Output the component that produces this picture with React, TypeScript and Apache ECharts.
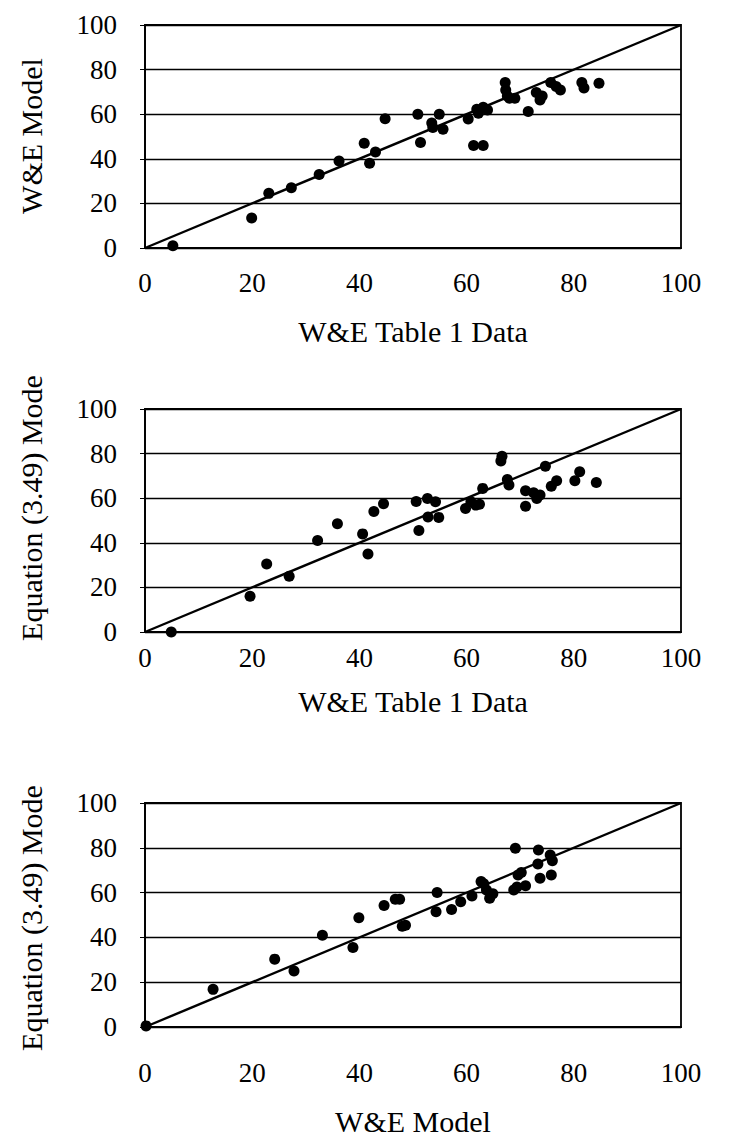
import React, { useEffect, useRef } from "react";
import * as echarts from "echarts";

// Plot 1: x = W&E Table 1 Data, y = W&E Model
const p1Data: number[] = [5.2, 19.9, 23.1, 27.3, 32.5, 36.2, 40.9, 41.9, 43, 44.8, 50.9, 51.4, 53.5, 53.7, 54.9, 55.6, 60.3, 61.3, 63.1, 61.9, 62.2, 63.1, 63.9, 67.2, 67.3, 67.6, 68, 69, 71.5, 73, 73.7, 74.1, 75.7, 76.7, 77.5, 81.5, 81.9, 84.7];
const p1Model: number[] = [1, 13.5, 24.5, 27, 33, 39, 47, 38, 43, 58, 60, 47.3, 56, 54, 60, 53.3, 57.8, 46, 46, 62.2, 60.4, 63.1, 61.9, 74.2, 70.9, 68.2, 67.2, 67.2, 61.2, 69.7, 66.4, 68.2, 74.2, 72.4, 70.9, 74.2, 71.7, 73.9];

// Plot 2: x = W&E Table 1 Data, y = Equation (3.49) Model
const p2Data: number[] = [4.9, 19.6, 22.7, 26.9, 32.2, 35.9, 40.6, 41.6, 42.7, 44.5, 50.6, 51.1, 52.7, 54.2, 52.8, 54.8, 59.8, 60.8, 62.4, 61.7, 63, 66.6, 66.4, 67.6, 67.9, 71, 71, 72.5, 73.7, 73.1, 74.7, 75.8, 76.8, 80.2, 81.1, 84.2];
const p2Eq: number[] = [0, 16, 30.5, 25, 41, 48.5, 44, 35, 54, 57.5, 58.5, 45.5, 59.9, 58.4, 51.6, 51.4, 55.4, 58.4, 57.3, 56.9, 64.4, 78.8, 76.7, 68.4, 65.9, 63.3, 56.4, 62.4, 61.4, 59.9, 74.3, 65.4, 67.8, 67.8, 71.9, 67];

// Plot 3: x = W&E Model, y = Equation (3.49) Model
const p3Model: number[] = [0.2, 12.7, 24.2, 27.8, 33.1, 38.8, 39.9, 44.6, 46.7, 47.5, 48, 48.6, 54.5, 54.3, 57.2, 58.9, 61, 62.7, 63.7, 64.3, 68.8, 69.1, 69.6, 71, 73.4, 73.3, 73.7, 75.6, 75.8, 76, 63.2, 64.9, 70.2, 69.4];
const p3Eq: number[] = [0.5, 16.8, 30.3, 25, 41, 35.5, 48.8, 54.2, 57, 57, 45, 45.4, 60, 51.5, 52.5, 55.9, 58.5, 64.9, 61.2, 57.5, 61.2, 79.8, 67.9, 63.1, 79, 72.8, 66.4, 76.8, 67.9, 74.2, 64, 59.5, 69, 62.5];

const diagonal: number[][] = [[0, 0], [100, 100]];

const FONT = '"Liberation Serif", "Times New Roman", serif';

const zip = (a: number[], b: number[]) => a.map((v, i) => [v, b[i]]);

export default function App() {
  const ref = useRef<HTMLDivElement>(null);
  useEffect(() => {
    document.body.style.margin = "0";
    const chart = echarts.init(ref.current!, null, { renderer: "svg" });
    const grids = [
      { left: 145, top: 25, width: 536, height: 223 },
      { left: 145, top: 409, width: 536, height: 223 },
      { left: 145, top: 803, width: 536, height: 224 },
    ];
    const labelMargins = [21, 12, 32];
    const xAxes = grids.map((_, i) => ({
      type: "value",
      gridIndex: i,
      min: 0,
      max: 100,
      interval: 20,
      axisLine: { show: true, onZero: false, lineStyle: { color: "#000", width: 1.8 } },
      axisTick: { show: false },
      splitLine: { show: false },
      axisLabel: { color: "#000", fontFamily: FONT, fontSize: 27, margin: labelMargins[i] },
    }));
    const yAxes = grids.map((_, i) => ({
      type: "value",
      gridIndex: i,
      min: 0,
      max: 100,
      interval: 20,
      axisLine: { show: true, onZero: false, lineStyle: { color: "#000", width: 1.8 } },
      axisTick: { show: true, length: 5, lineStyle: { color: "#000" } },
      splitLine: { show: true, lineStyle: { color: "#000", width: 1.3 } },
      axisLabel: { color: "#000", fontFamily: FONT, fontSize: 27, margin: 28 },
    }));
    const datasets = [zip(p1Data, p1Model), zip(p2Data, p2Eq), zip(p3Model, p3Eq)];
    const series: any[] = [];
    datasets.forEach((d, i) => {
      series.push({
        type: "line",
        xAxisIndex: i,
        yAxisIndex: i,
        data: diagonal,
        symbol: "none",
        lineStyle: { color: "#000", width: 2.4 },
        silent: true,
      });
      series.push({
        type: "scatter",
        xAxisIndex: i,
        yAxisIndex: i,
        data: d,
        symbolSize: 11,
        itemStyle: { color: "#000", opacity: 1 },
      });
    });
    const txt = (text: string, x: number, y: number, rot = 0) => ({
      type: "text",
      x,
      y,
      rotation: rot,
      style: {
        text,
        fill: "#000",
        font: `30px ${FONT}`,
        textAlign: "center",
        textVerticalAlign: "middle",
      },
    });
    chart.setOption({
      animation: false,
      backgroundColor: "#fff",
      grid: grids.map((g) => ({ ...g, show: true, borderColor: "#000", borderWidth: 1.8, backgroundColor: "transparent" })),
      xAxis: xAxes,
      yAxis: yAxes,
      series,
      graphic: [
        txt("W&E Model", 31, 136, Math.PI / 2),
        txt("W&E Table 1 Data", 413, 331),
        txt("Equation (3.49) Mode", 31, 508, Math.PI / 2),
        txt("W&E Table 1 Data", 413, 701),
        txt("Equation (3.49) Mode", 31, 918, Math.PI / 2),
        txt("W&E Model", 413, 1121),
      ],
    });
    return () => chart.dispose();
  }, []);
  return <div ref={ref} style={{ width: 734, height: 1141, position: "absolute", left: 0, top: 0 }} />;
}
